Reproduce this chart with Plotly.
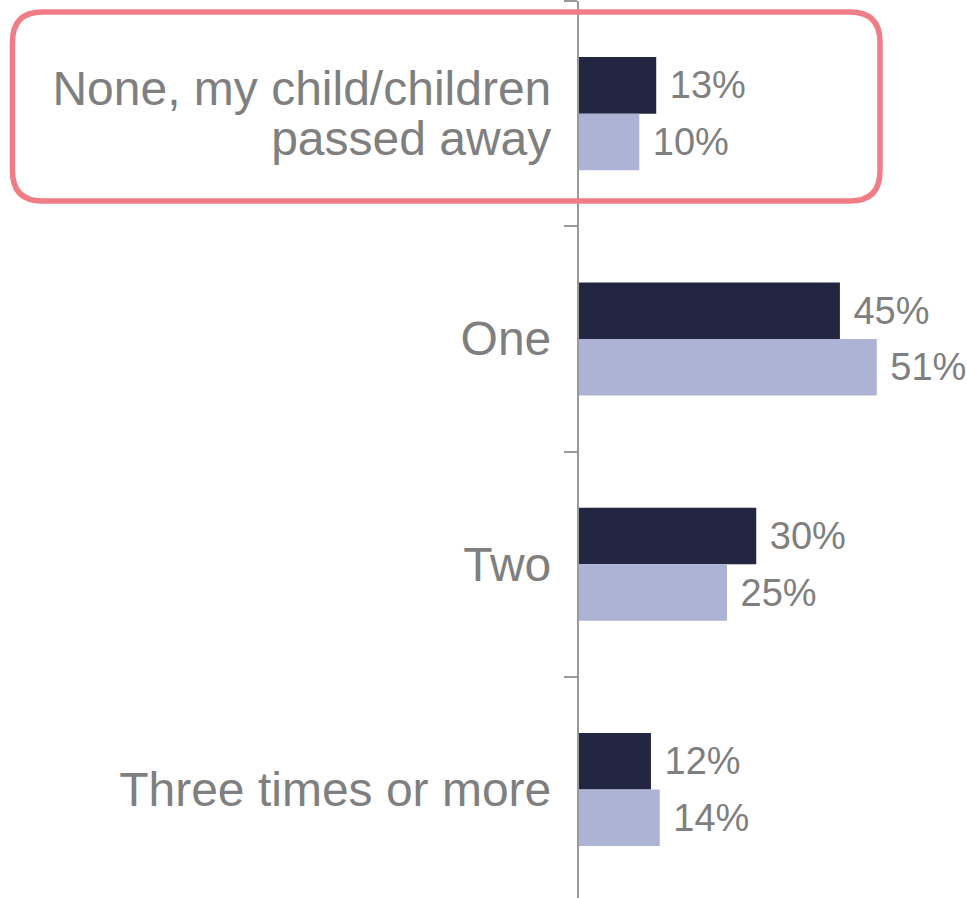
import plotly.graph_objects as go

categories = ["None, my child/children passed away", "One", "Two", "Three times or more"]
tick_labels = ["None, my child/children<br>passed away", "One", "Two", "Three times or more"]
series_a = [13.2, 44.6, 30.3, 12.3]
series_b = [10.3, 50.9, 25.3, 13.8]
labels_a = ["13%", "45%", "30%", "12%"]
labels_b = ["10%", "51%", "25%", "14%"]

W, H = 967, 898
ML, MT = 579, 1
PW, PH = W - ML, H - MT
FONT = "Liberation Sans, Arial"
LABEL_PX = 48


def styled(label):
    return "<br>".join(f'<span style="font-size:{LABEL_PX}px">{part}</span>'
                       for part in label.split("<br>"))


fig = go.Figure()
fig.add_trace(go.Bar(
    y=categories, x=series_a, orientation="h", name="A",
    marker=dict(color="#222641", line=dict(width=0)),
    text=["\u00a0" + t for t in labels_a], textposition="outside",
    textfont=dict(size=38, color="#7f7f7f", family=FONT),
    cliponaxis=False,
))
fig.add_trace(go.Bar(
    y=categories, x=series_b, orientation="h", name="B",
    marker=dict(color="#ADB3D5", line=dict(width=0)),
    text=["\u00a0" + t for t in labels_b], textposition="outside",
    textfont=dict(size=38, color="#7f7f7f", family=FONT),
    cliponaxis=False,
))

# rounded highlight rectangle (pixel coords -> paper)
def px(x):
    return (x - ML) / PW
def py(y):
    return 1 - (y - MT) / PH

x0, x1, y0, y1, r = 12.5, 880, 12, 201, 30
path = (
    f"M {px(x0 + r)} {py(y0)} L {px(x1 - r)} {py(y0)} "
    f"Q {px(x1)} {py(y0)} {px(x1)} {py(y0 + r)} "
    f"L {px(x1)} {py(y1 - r)} Q {px(x1)} {py(y1)} {px(x1 - r)} {py(y1)} "
    f"L {px(x0 + r)} {py(y1)} Q {px(x0)} {py(y1)} {px(x0)} {py(y1 - r)} "
    f"L {px(x0)} {py(y0 + r)} Q {px(x0)} {py(y0)} {px(x0 + r)} {py(y0)} Z"
)
fig.add_shape(type="path", xref="paper", yref="paper", path=path,
              line=dict(color="#F07C86", width=5.5), layer="above")

fig.update_layout(
    width=W, height=H,
    margin=dict(l=ML, r=0, t=MT, b=0, pad=0),
    barmode="group", bargap=0.498, bargroupgap=0,
    plot_bgcolor="white", paper_bgcolor="white",
    showlegend=False,
    font=dict(family=FONT, color="#7f7f7f"),
    xaxis=dict(range=[0, PW / 5.85], visible=False, fixedrange=True),
    yaxis=dict(
        type="category", categoryorder="array", categoryarray=categories,
        tickmode="array", tickvals=categories, ticktext=[styled(t) for t in tick_labels],
        range=[-0.5 + PH / 225.3, -0.5],
        showline=True, linecolor="#999999", linewidth=2,
        ticks="outside", tickson="boundaries", ticklen=13, tickcolor="#999999", tickwidth=2,
        tickfont=dict(size=38.5, color="#7f7f7f", family=FONT),
        showgrid=False, zeroline=False, automargin=False, fixedrange=True,
        ticklabelstandoff=18, ticklabelshift=-3,
    ),
)

fig.write_html("out.html", config={"displayModeBar": False},
               post_script="document.body.style.margin='0';document.body.style.overflow='hidden';")
